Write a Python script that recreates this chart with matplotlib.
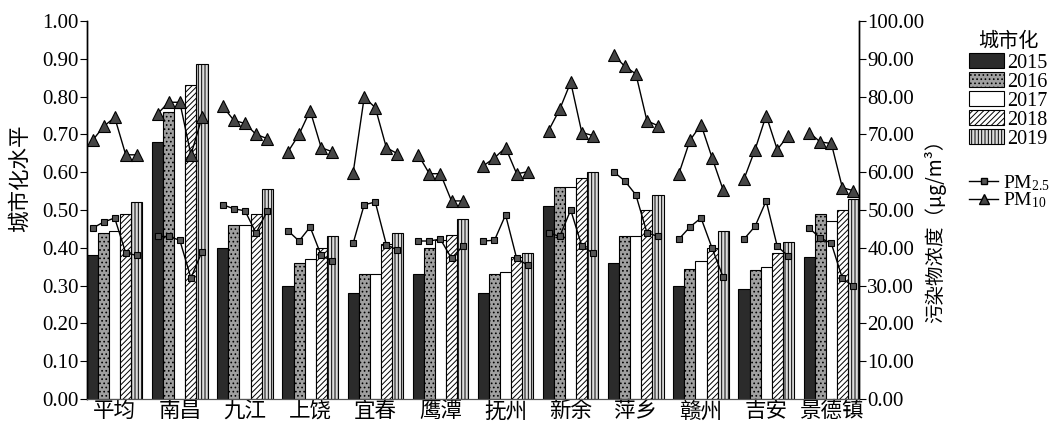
import matplotlib
matplotlib.use('Agg')
import matplotlib.pyplot as plt
from matplotlib.font_manager import FontProperties
from matplotlib.lines import Line2D
import numpy as np

# data
cities = ['平均', '南昌', '九江', '上饶', '宜春', '鹰潭', '抚州', '新余', '萍乡', '赣州', '吉安', '景德镇']
years = ['2015', '2016', '2017', '2018', '2019']

urb_2015 = [0.38, 0.68, 0.40, 0.30, 0.28, 0.33, 0.28, 0.51, 0.36, 0.30, 0.29, 0.375]
urb_2016 = [0.44, 0.76, 0.46, 0.36, 0.33, 0.40, 0.33, 0.56, 0.43, 0.345, 0.34, 0.49]
urb_2017 = [0.445, 0.77, 0.46, 0.37, 0.33, 0.42, 0.335, 0.56, 0.43, 0.365, 0.35, 0.47]
urb_2018 = [0.49, 0.83, 0.49, 0.40, 0.41, 0.435, 0.375, 0.585, 0.50, 0.40, 0.385, 0.50]
urb_2019 = [0.52, 0.885, 0.555, 0.43, 0.44, 0.475, 0.385, 0.60, 0.54, 0.445, 0.415, 0.53]

# PM2.5 / PM10 per city, 2015..2019
pm25 = [
    [45.2, 46.8, 47.9, 38.6, 38.0],
    [43.0, 43.0, 42.0, 32.0, 39.0],
    [51.4, 50.3, 49.8, 43.9, 49.7],
    [44.5, 41.8, 45.5, 38.0, 36.5],
    [41.2, 51.4, 52.1, 40.8, 39.4],
    [41.8, 41.8, 42.3, 37.2, 40.4],
    [41.8, 42.0, 48.7, 37.2, 35.4],
    [44.0, 43.0, 50.0, 40.5, 38.6],
    [60.1, 57.7, 54.0, 44.0, 43.0],
    [42.3, 45.5, 47.9, 39.9, 32.2],
    [42.3, 45.7, 52.4, 40.4, 37.8],
    [45.2, 42.6, 41.2, 31.9, 29.8],
]
pm10 = [
    [68.4, 72.1, 74.5, 64.6, 64.6],
    [75.5, 78.5, 78.5, 64.6, 74.5],
    [77.4, 73.7, 72.9, 70.0, 68.9],
    [65.4, 70.0, 76.3, 66.5, 65.4],
    [59.8, 79.8, 77.1, 66.5, 64.9],
    [64.6, 59.6, 59.6, 52.4, 52.4],
    [61.7, 63.8, 66.5, 59.6, 60.1],
    [71.0, 76.6, 83.8, 70.5, 69.7],
    [91.0, 88.0, 86.0, 73.6, 72.3],
    [59.6, 68.4, 72.6, 63.8, 55.3],
    [58.2, 66.0, 75.0, 66.0, 69.7],
    [70.5, 68.0, 67.6, 55.9, 55.1],
]

plt.rcParams['hatch.color'] = 'black'
plt.rcParams['hatch.linewidth'] = 0.7
plt.rcParams['mathtext.fontset'] = 'custom'
plt.rcParams['mathtext.rm'] = 'Liberation Serif'
plt.rcParams['mathtext.it'] = 'Liberation Serif:italic'

cjk = ['Noto Sans CJK SC', 'DejaVu Sans']
serif = 'Liberation Serif'

fig = plt.figure(figsize=(10.53, 4.30), dpi=100)
ax = fig.add_axes([87 / 1053, 1 - 399 / 430, (859 - 87) / 1053, (399 - 21) / 430])
ax2 = ax.twinx()

w = 0.17
x = np.arange(len(cities))
styles = [
    dict(color='#2b2b2b', hatch=None),
    dict(color='#a0a0a0', hatch='....'),
    dict(color='white', hatch=None),
    dict(color='white', hatch='//////'),
    dict(color='#dcdcdc', hatch='|||||'),
]
series = [urb_2015, urb_2016, urb_2017, urb_2018, urb_2019]
bars = []
for k, (vals, st) in enumerate(zip(series, styles)):
    b = ax.bar(x + (k - 2) * w, vals, w, facecolor=st['color'], edgecolor='black',
               linewidth=0.8, hatch=st['hatch'], label=years[k])
    bars.append(b)

for i in range(len(cities)):
    xs = x[i] + (np.arange(5) - 2) * w
    ax2.plot(xs, pm25[i], color='black', lw=1.0, marker='s', ms=5,
             mfc='#555555', mec='black', mew=0.8)
    ax2.plot(xs, pm10[i], color='black', lw=1.0, marker='^', ms=8,
             mfc='#454545', mec='black', mew=0.8)

ax.set_xlim(-2.5 * w, len(cities) - 1 + 2.5 * w)
ax.set_ylim(0, 1.0)
ax2.set_ylim(0, 100)
ax.set_yticks(np.arange(0, 1.01, 0.1))
ax2.set_yticks(np.arange(0, 101, 10))
ax.set_yticklabels(['%.2f' % v for v in np.arange(0, 1.01, 0.1)], fontfamily=serif, fontsize=15)
ax2.set_yticklabels(['%.2f' % v for v in np.arange(0, 101, 10)], fontfamily=serif, fontsize=15)
ax.set_xticks(x)
ax.set_xticklabels(cities, fontfamily=cjk, fontsize=15.5)
ax.tick_params(axis='x', length=0, pad=1)
ax.tick_params(axis='y', direction='out', length=5, width=0.8, pad=1)
ax2.tick_params(axis='y', direction='out', length=5, width=0.8, pad=1)

for a in (ax, ax2):
    a.spines['top'].set_visible(False)
    a.spines['left'].set_linewidth(1.0)
    a.spines['right'].set_linewidth(1.0)
    a.spines['bottom'].set_linewidth(0.8)
    a.spines['bottom'].set_color('#555555')

fig.text(20 / 1053, 1 - 178 / 430, '城市化水平', rotation=90, ha='center', va='center',
         family=cjk, fontsize=15.5)
fig.text(935 / 1053, 1 - 226 / 430, '污染物浓度（μg/m³）', rotation=90, ha='center', va='center',
         family=cjk, fontsize=14)

leg1 = fig.legend([b[0] for b in bars], years, loc='upper left',
                  bbox_to_anchor=(969 / 1053, 1 - 31 / 430), frameon=False,
                  title='城市化', prop=FontProperties(family=serif, size=14.5),
                  title_fontproperties=FontProperties(family='Noto Sans CJK SC', size=14.5),
                  handlelength=1.75, handleheight=0.75, handletextpad=0.15,
                  labelspacing=-0.02, borderpad=0, borderaxespad=0)
leg1._legend_box.sep = 1

h25 = Line2D([], [], color='black', lw=1.0, marker='s', ms=4, mfc='#555555', mec='black')
h10 = Line2D([], [], color='black', lw=1.0, marker='^', ms=7, mfc='#454545', mec='black')
leg2 = fig.legend([h25, h10], ['PM$_{2.5}$', 'PM$_{10}$'], loc='upper left',
                  bbox_to_anchor=(969 / 1053, 1 - 173 / 430), frameon=False,
                  prop=FontProperties(family=serif, size=14),
                  handlelength=1.5, handletextpad=0.25, labelspacing=-0.1,
                  borderpad=0, borderaxespad=0, numpoints=1)

fig.savefig('out.png', dpi=100)
